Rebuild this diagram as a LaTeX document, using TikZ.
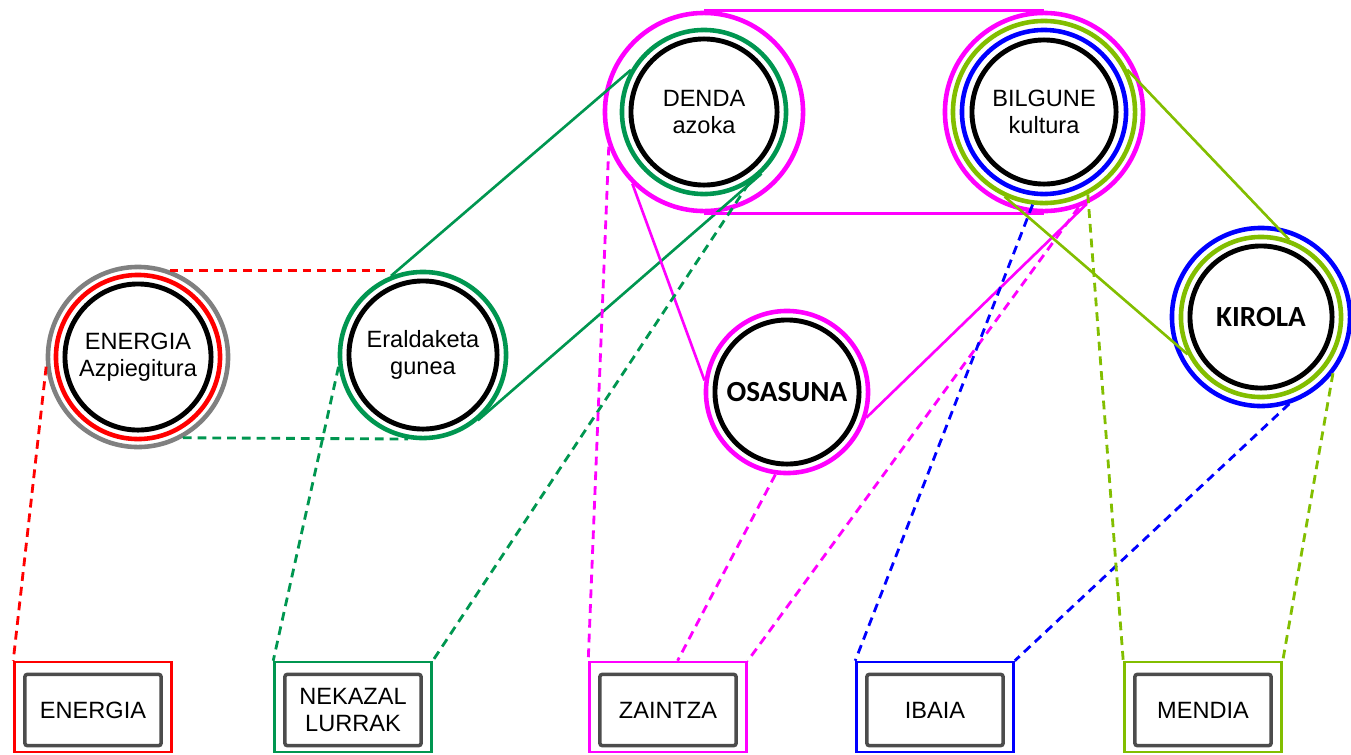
\documentclass[tikz,border=0pt]{standalone}
\usepackage{fontspec}
\setmainfont{Liberation Sans}
\newfontfamily\boldfont{Carlito}
\usetikzlibrary{calc}

\definecolor{kgreen}{RGB}{0,150,80}
\definecolor{kmagenta}{RGB}{255,0,255}
\definecolor{kblue}{RGB}{0,0,255}
\definecolor{klime}{RGB}{130,190,0}
\definecolor{kred}{RGB}{255,0,0}
\definecolor{kgray}{RGB}{128,128,128}

\begin{document}
\begin{tikzpicture}[
        x={(0.01cm,0cm)},
        y={(0cm,-0.01cm)},
        core/.style={circle, draw=black, line width=1.4pt, minimum size=#1, inner sep=0pt, align=center, font=\fontsize{6.7}{7.8}\selectfont},
        ring/.style={circle, draw, line width=1.3pt, minimum size=#1, inner sep=0pt},
        outerbox/.style={draw, line width=0.7pt, minimum width=1.57cm, minimum height=0.9cm, inner sep=0pt},
        innerbox/.style={draw=black!70, line width=1pt, rounded corners=0.6pt, minimum width=1.36cm, minimum height=0.71cm, inner sep=0pt, align=center, font=\fontsize{6.7}{7.9}\selectfont},
        link/.style={line width=0.75pt},
        hint/.style={line width=0.8pt, dash pattern=on 2.5pt off 1.7pt}
    ]
        \useasboundingbox (0,0) rectangle (1351,754);

        % ENERGIA
        \node[core=1.46cm] (en) at (138,357) {ENERGIA\\Azpiegitura};
        \node[ring=1.64cm, draw=kred] (en-r) at (en) {};
        \node[ring=1.80cm, draw=kgray] (en-g) at (en) {};

        % Eraldaketa
        \node[core=1.48cm] (er) at (423,355) {Eraldaketa\\gunea};
        \node[ring=1.66cm, draw=kgreen] (er-g) at (er) {};

        % DENDA
        \node[core=1.46cm] (de) at (704,112) {DENDA\\azoka};
        \node[ring=1.64cm, draw=kgreen] (de-g) at (de) {};
        \node[ring=1.98cm, draw=kmagenta] (de-m) at (de) {};

        % BILGUNE
        \node[core=1.44cm] (bi) at (1044,112) {BILGUNE\\kultura};
        \node[ring=1.64cm, draw=kblue] (bi-b) at (bi) {};
        \node[ring=1.82cm, draw=klime] (bi-g) at (bi) {};
        \node[ring=1.98cm, draw=kmagenta] (bi-m) at (bi) {};

        % KIROLA
        \node[core=1.42cm, font=\boldfont\bfseries\fontsize{8.3}{10}\selectfont] (ki) at (1261,317) {KIROLA};
        \node[ring=1.60cm, draw=klime] (ki-g) at (ki) {};
        \node[ring=1.78cm, draw=kblue] (ki-b) at (ki) {};

        % OSASUNA
        \node[core=1.44cm, font=\boldfont\bfseries\fontsize{8.3}{10}\selectfont] (os) at (787,392) {OSASUNA};
        \node[ring=1.62cm, draw=kmagenta] (os-m) at (os) {};

        % bottom boxes
        \node[outerbox, draw=kred] (b-en) at (93,707) {};
        \node[innerbox] (t-en) at (93,710) {ENERGIA};
        \node[outerbox, draw=kgreen] (b-ne) at (353,707) {};
        \node[innerbox] (t-ne) at (353,710) {NEKAZAL\\LURRAK};
        \node[outerbox, draw=kmagenta] (b-za) at (668,707) {};
        \node[innerbox] (t-za) at (668,710) {ZAINTZA};
        \node[outerbox, draw=kblue] (b-ib) at (935,707) {};
        \node[innerbox] (t-ib) at (935,710) {IBAIA};
        \node[outerbox, draw=klime] (b-me) at (1203,707) {};
        \node[innerbox] (t-me) at (1203,710) {MENDIA};

        \coordinate (za-in) at ($(b-za.north west)!0.56!(b-za.north east)$);
        \coordinate (er-top) at (en-g.70 -| er-g.112);

        % solid links
        \draw[link, kgreen] (er-g.112) -- (de-g.150);
        \draw[link, kgreen] (er-g.-50) -- (de-g.-47);
        \draw[link, kmagenta] (de-m.north) -- (bi-m.north);
        \draw[link, kmagenta] (de-m.south) -- (bi-m.south);
        \draw[link, kmagenta] (de-m.225) -- (os-m.172);
        \draw[link, kmagenta] (os-m.-18) -- (bi-m.-65);
        \draw[link, klime] (bi-g.27) -- (ki-g.70);
        \draw[link, klime] (bi-g.-115) -- (ki-g.207);

        % dashed links
        \draw[hint, kred] (en-g.70) -- (er-top);
        \draw[hint, kred] (en-g.186) -- (b-en.north west);
        \draw[hint, kgreen] (en-g.-61) -- (er-g.-100);
        \draw[hint, kgreen] (er-g.188) -- (b-ne.north west);
        \draw[hint, kgreen] (de-g.-58) -- (b-ne.north east);
        \draw[hint, kmagenta] (de-m.200) -- (b-za.north west);
        \draw[hint, kmagenta] (os-m.-98) -- (za-in);
        \draw[hint, kmagenta] (bi-m.-70) -- (b-za.north east);
        \draw[hint, kblue] (bi-g.-97) -- (b-ib.north west);
        \draw[hint, kblue] (ki-b.-72) -- (b-ib.north east);
        \draw[hint, klime] (bi-g.-62) -- (b-me.north west);
        \draw[hint, klime] (ki-b.-38) -- (b-me.north east);

    \end{tikzpicture}
\end{document}
